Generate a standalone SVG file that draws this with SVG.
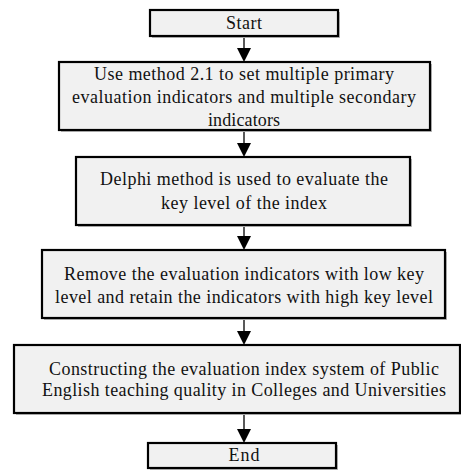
<svg xmlns="http://www.w3.org/2000/svg" width="461" height="470" viewBox="0 0 461 470">
<style>
.box{fill:#f1f1f1;stroke:#000;stroke-width:2.2}
.sh{fill:#b8b8b8}
.ln{stroke:#222;stroke-width:1.5;fill:none}
.ah{fill:#000}
</style>
<g id="connectors">
<path class="ln" d="M244,37 V50"/>
<path class="ln" d="M244,130 V145"/>
<path class="ln" d="M244,225 V238"/>
<path class="ln" d="M244,318 V333"/>
<path class="ln" d="M244,413 V431"/>
<path class="ah" d="M237,48 H251 L244,62 Z"/>
<path class="ah" d="M237,143 H251 L244,157 Z"/>
<path class="ah" d="M237,236 H251 L244,250 Z"/>
<path class="ah" d="M237,331 H251 L244,345 Z"/>
<path class="ah" d="M237,429 H251 L244,443 Z"/>
</g>
<g font-family="Liberation Serif, Times New Roman, serif" font-size="18" fill="#111" text-anchor="middle">
<g id="start">
<rect class="sh" x="152" y="12" width="188" height="26"/>
<rect class="box" x="150" y="10" width="188" height="26"/>
<text x="244" y="29" textLength="36" lengthAdjust="spacing">Start</text>
</g>
<g id="step1">
<rect class="sh" x="61" y="64" width="371" height="68"/>
<rect class="box" x="59" y="62" width="371" height="68"/>
<text x="244" y="80" textLength="300" lengthAdjust="spacing">Use method 2.1 to set multiple primary</text>
<text x="244" y="103" textLength="344" lengthAdjust="spacing">evaluation indicators and multiple secondary</text>
<text x="244" y="126" textLength="72" lengthAdjust="spacing">indicators</text>
</g>
<g id="step2">
<rect class="sh" x="78" y="159" width="334" height="68"/>
<rect class="box" x="76" y="157" width="334" height="68"/>
<text x="244" y="185" textLength="288" lengthAdjust="spacing">Delphi method is used to evaluate the</text>
<text x="244" y="209" textLength="166" lengthAdjust="spacing">key level of the index</text>
</g>
<g id="step3">
<rect class="sh" x="44" y="252" width="403" height="68"/>
<rect class="box" x="42" y="250" width="403" height="68"/>
<text x="244" y="280" textLength="360" lengthAdjust="spacing">Remove the evaluation indicators with low  key</text>
<text x="244" y="303" textLength="378" lengthAdjust="spacing">level and retain the indicators with high key level</text>
</g>
<g id="step4">
<rect class="sh" x="16" y="347" width="446" height="68"/>
<rect class="box" x="14" y="345" width="446" height="68"/>
<text x="244" y="375" textLength="390" lengthAdjust="spacing">Constructing the evaluation index system of Public</text>
<text x="244" y="396" textLength="404" lengthAdjust="spacing">English teaching quality in Colleges and Universities</text>
</g>
<g id="end">
<rect class="sh" x="150" y="445" width="188" height="25"/>
<rect class="box" x="148" y="443" width="188" height="25"/>
<text x="244" y="461" textLength="31" lengthAdjust="spacing">End</text>
</g>
</g>
</svg>
